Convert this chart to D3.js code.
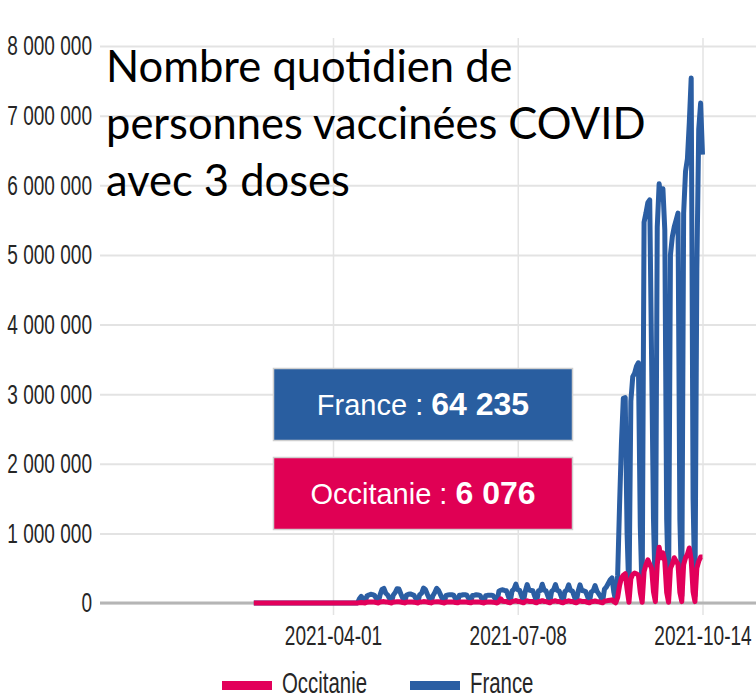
<!DOCTYPE html>
<html><head><meta charset="utf-8">
<script src="https://cdn.jsdelivr.net/npm/d3@7"></script>
<style>body{margin:0;background:#fff}svg{display:block}</style>
</head><body>
<script>
// ---- data ----
const startDate = "2021-02-18";
const endDate = "2021-10-14";
const seriesNames = ["Occitanie", "France"];
// daily values, thousands of persons (rows: Thu-Sun partial week, then Mon..Sun weeks)
const franceK = [
  0,0,0,0,
  0,0,0,0,0,0,0,
  0,0,0,0,0,0,0,
  0,0,0,0,0,0,0,
  0,0,0,0,0,0,0,
  0,0,0,0,0,0,0,
  0,0,0,0,0,0,0,
  0,0,0,0,0,0,0,
  0,0,0,60,95,55,10,
  100,115,125,120,110,65,10,
  120,195,210,140,115,65,10,
  115,150,205,200,130,70,10,
  115,125,130,120,110,60,15,
  120,140,215,195,130,70,10,
  105,150,210,180,120,60,10,
  110,115,120,118,112,60,15,
  110,112,118,120,112,62,15,
  108,112,118,115,110,60,12,
  105,110,112,112,105,60,12,
  170,185,190,180,175,100,20,
  175,200,270,190,180,105,15,
  170,265,185,180,175,100,15,
  175,180,270,185,175,100,15,
  170,190,265,180,170,100,15,
  165,185,260,180,170,95,15,
  165,260,180,175,165,95,15,
  160,175,250,170,130,90,15,
  200,230,280,330,360,150,20,
  400,1400,2300,2940,2950,1000,100,
  2900,3250,3300,3400,3450,1100,100,
  5470,5600,5750,5790,3500,1200,100,
  5400,6020,5800,5950,5360,1200,100,
  5000,5260,5400,5500,5600,1200,100,
  5600,6200,6380,6900,7540,1500,100,
  4800,6800,7180,6440
];
const occitanieK = [
  0,0,0,0,
  0,0,0,0,0,0,0,
  0,0,0,0,0,0,0,
  0,0,0,0,0,0,0,
  0,0,0,0,0,0,0,
  0,0,0,0,0,0,0,
  0,0,0,0,0,0,0,
  0,0,0,0,0,0,0,
  0,0,0,5,8,5,1,
  12,14,15,14,13,6,1,
  14,18,20,15,13,6,1,
  14,16,19,18,14,7,1,
  13,14,15,14,12,6,1,
  14,16,20,18,14,7,1,
  13,16,19,17,13,6,1,
  13,14,14,14,13,6,2,
  13,13,14,14,13,6,2,
  13,13,14,13,13,6,1,
  12,13,13,13,12,6,1,
  20,60,25,22,20,10,2,
  22,25,35,23,22,11,2,
  21,32,23,22,21,10,2,
  22,23,34,23,22,11,2,
  21,24,33,22,21,10,2,
  20,23,32,22,21,10,2,
  20,32,22,21,20,10,2,
  19,21,30,20,18,9,2,
  25,30,35,40,45,20,3,
  80,250,360,400,420,200,10,
  350,410,430,420,400,150,10,
  450,550,620,560,500,160,20,
  550,800,650,720,600,150,10,
  500,560,650,600,560,150,20,
  550,650,700,790,620,160,20,
  500,600,660,660
];
const yTickValues = [0, 1000000, 2000000, 3000000, 4000000, 5000000, 6000000, 7000000, 8000000];
const xTickLabels = ["2021-04-01", "2021-07-08", "2021-10-14"];
const tooltipLabels = ["France", "Occitanie"];
const tooltipNumbers = ["64 235", "6 076"];
const titleLines = ["Nombre quotidien de", "personnes vaccinées COVID", "avec 3 doses"];

// ---- drawing ----
const W = 756, H = 700;
const colors = { France: "#2b5ea3", Occitanie: "#e2005a" };
const boxColors = { France: "#295ea0", Occitanie: "#e00054" };
const parse = d3.utcParse("%Y-%m-%d");
const dates = d3.utcDay.range(parse(startDate), d3.utcDay.offset(parse(endDate), 1));
const series = {
  France: dates.map((d, i) => ({ date: d, v: franceK[i] * 1000 })),
  Occitanie: dates.map((d, i) => ({ date: d, v: occitanieK[i] * 1000 }))
};

const plotLeft = 100, plotRight = 756, plotTop = 38, plotBottom = 615;
const x = d3.scaleUtc().domain([parse("2021-04-01"), parse("2021-10-14")]).range([333, 702.5]);
const y = d3.scaleLinear().domain([0, 8000000]).range([603, 46]);
const SX = 0.68;
const fmt = v => d3.format(",")(v).replace(/,/g, " ");

const svg = d3.select("body").append("svg").attr("width", W).attr("height", H)
  .style("font-family", "'Liberation Sans', Arial, sans-serif");

// y axis + horizontal grid
const ya = svg.append("g").attr("transform", `translate(${plotLeft},0)`)
  .call(d3.axisLeft(y).tickValues(yTickValues).tickFormat(fmt).tickSize(-(plotRight - plotLeft)).tickPadding(8));
ya.select(".domain").remove();
ya.selectAll(".tick line").attr("stroke", "#e3e3e3").attr("stroke-width", 2);
ya.selectAll(".tick text")
  .attr("font-size", 28).attr("fill", "#262626")
  .attr("x", -8 / SX).attr("transform", `scale(${SX},1)`);

// x axis + vertical grid
const xa = svg.append("g").attr("transform", `translate(0,${plotBottom})`)
  .call(d3.axisBottom(x).tickValues(xTickLabels.map(parse)).tickFormat(d3.utcFormat("%Y-%m-%d"))
    .tickSize(-(plotBottom - plotTop)));
xa.select(".domain").remove();
xa.selectAll(".tick line").attr("stroke", "#e3e3e3").attr("stroke-width", 1.5);
xa.selectAll(".tick text")
  .attr("font-size", 28).attr("fill", "#262626")
  .attr("y", 30).attr("dy", 0).attr("transform", `scale(${SX},1)`);

// zero line
svg.append("line").attr("x1", plotLeft).attr("x2", plotRight)
  .attr("y1", y(0)).attr("y2", y(0)).attr("stroke", "#b5b5b5").attr("stroke-width", 3);

// lines
const line = d3.line().x(d => x(d.date)).y(d => y(d.v));
["France", "Occitanie"].forEach(name => {
  svg.append("path").datum(series[name])
    .attr("fill", "none").attr("stroke", colors[name])
    .attr("stroke-width", 5).attr("stroke-linejoin", "round")
    .attr("d", line);
});

// title
const title = svg.append("g");
titleLines.forEach((t, i) => {
  title.append("text").attr("x", 106).attr("y", 82 + i * 57)
    .attr("font-family", "Lato, 'Open Sans', sans-serif")
    .attr("font-size", 43.5).attr("fill", "#000").text(t);
});

// tooltip boxes
const boxTops = [368.5, 457.5];
tooltipLabels.forEach((name, i) => {
  svg.append("rect").attr("x", 273.5).attr("y", boxTops[i]).attr("width", 299).attr("height", 72)
    .attr("fill", boxColors[name]).attr("stroke", "#cfcfcf").attr("stroke-width", 1.5);
  const t = svg.append("text").attr("x", 423).attr("y", boxTops[i] + 46.5)
    .attr("text-anchor", "middle").attr("fill", "#fff");
  t.append("tspan").attr("font-size", 29).text(name + " : ");
  t.append("tspan").attr("font-size", 32).attr("font-weight", "bold").text(tooltipNumbers[i]);
});

// legend
const legendX = [222, 410];
seriesNames.forEach((name, i) => {
  svg.append("rect").attr("x", legendX[i]).attr("y", 681).attr("width", 50).attr("height", 9)
    .attr("fill", colors[name]);
  svg.append("text").attr("transform", `translate(${legendX[i] + 60},693) scale(${SX},1)`)
    .attr("font-size", 30).attr("fill", "#262626").text(name);
});
</script>
</body></html>
